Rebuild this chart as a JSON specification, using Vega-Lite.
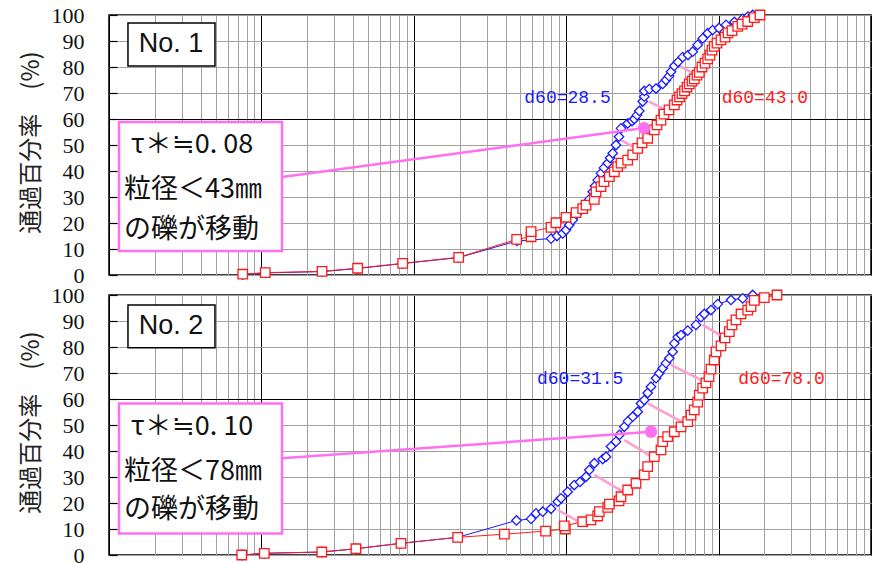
{
  "$schema": "https://vega.github.io/schema/vega-lite/v6.json",
  "background": "white",
  "padding": {"left": 18, "top": 3, "right": 0, "bottom": 0},
  "spacing": 20,
  "bounds": "flush",
  "config": {
    "view": {"stroke": "#000000", "strokeWidth": 1.5},
    "axis": {"gridOpacity": 1}
  },
  "datasets": {
    "c1": [
      {"s":"blue","d":0.0754,"p":0.2},{"s":"blue","d":0.106,"p":0.8},{"s":"blue","d":0.25,"p":1.3},{"s":"blue","d":0.428,"p":2.5},{"s":"blue","d":0.846,"p":4.4},{"s":"blue","d":1.97,"p":6.7},{"s":"blue","d":4.76,"p":13.1},{"s":"blue","d":7.95,"p":14.0},{"s":"blue","d":8.70,"p":15.0},{"s":"blue","d":9.49,"p":16.0},{"s":"blue","d":9.97,"p":17.3},{"s":"blue","d":10.48,"p":19.2},{"s":"blue","d":11.03,"p":21.2},{"s":"blue","d":11.77,"p":23.5},{"s":"blue","d":13.15,"p":26.3},{"s":"blue","d":14.18,"p":29.1},{"s":"blue","d":14.93,"p":32.0},{"s":"blue","d":15.45,"p":34.2},{"s":"blue","d":16.09,"p":36.5},{"s":"blue","d":16.92,"p":39.1},{"s":"blue","d":17.70,"p":41.2},{"s":"blue","d":18.73,"p":43.0},{"s":"blue","d":19.39,"p":45.0},{"s":"blue","d":20.19,"p":46.8},{"s":"blue","d":21.22,"p":50.0},{"s":"blue","d":22.21,"p":53.2},{"s":"blue","d":22.89,"p":56.4},{"s":"blue","d":25.33,"p":58.3},{"s":"blue","d":27.03,"p":59.2},{"s":"blue","d":27.99,"p":60.0},{"s":"blue","d":29.15,"p":61.5},{"s":"blue","d":30.18,"p":63.1},{"s":"blue","d":31.77,"p":66.7},{"s":"blue","d":32.54,"p":68.6},{"s":"blue","d":32.54,"p":70.8},{"s":"blue","d":35.10,"p":71.5},{"s":"blue","d":38.85,"p":71.7},{"s":"blue","d":42.97,"p":73.5},{"s":"blue","d":45.16,"p":75.0},{"s":"blue","d":47.27,"p":76.5},{"s":"blue","d":48.72,"p":78.2},{"s":"blue","d":51.20,"p":80.4},{"s":"blue","d":54.15,"p":81.9},{"s":"blue","d":58.13,"p":83.8},{"s":"blue","d":62.99,"p":84.6},{"s":"blue","d":67.62,"p":85.9},{"s":"blue","d":72.89,"p":88.5},{"s":"blue","d":78.66,"p":91.0},{"s":"blue","d":84.81,"p":93.0},{"s":"blue","d":91.46,"p":94.2},{"s":"blue","d":100.6,"p":95.0},{"s":"blue","d":111.8,"p":96.2},{"s":"blue","d":126.8,"p":97.3},{"s":"blue","d":143.9,"p":98.5},{"s":"blue","d":155.9,"p":99.4},{"s":"blue","d":167.4,"p":100},
      {"s":"red","d":0.0754,"p":0.3},{"s":"red","d":0.106,"p":0.9},{"s":"red","d":0.25,"p":1.4},{"s":"red","d":0.428,"p":2.6},{"s":"red","d":0.846,"p":4.5},{"s":"red","d":1.97,"p":6.8},{"s":"red","d":4.73,"p":13.7},{"s":"red","d":5.88,"p":14.7},{"s":"red","d":5.88,"p":16.7},{"s":"red","d":7.95,"p":18.3},{"s":"red","d":8.57,"p":20.1},{"s":"red","d":9.97,"p":22.2},{"s":"red","d":11.60,"p":24.0},{"s":"red","d":12.83,"p":25.5},{"s":"red","d":13.49,"p":26.9},{"s":"red","d":15.29,"p":29.1},{"s":"red","d":15.69,"p":32.0},{"s":"red","d":16.92,"p":34.0},{"s":"red","d":17.70,"p":35.9},{"s":"red","d":19.19,"p":37.8},{"s":"red","d":20.69,"p":39.7},{"s":"red","d":21.77,"p":41.7},{"s":"red","d":22.89,"p":43.0},{"s":"red","d":25.33,"p":44.2},{"s":"red","d":27.32,"p":46.2},{"s":"red","d":29.46,"p":48.7},{"s":"red","d":31.43,"p":50.8},{"s":"red","d":34.25,"p":52.6},{"s":"red","d":37.85,"p":55.8},{"s":"red","d":39.43,"p":57.7},{"s":"red","d":41.89,"p":59.6},{"s":"red","d":43.83,"p":61.9},{"s":"red","d":47.27,"p":63.5},{"s":"red","d":51.20,"p":65.4},{"s":"red","d":53.33,"p":67.3},{"s":"red","d":55.42,"p":68.5},{"s":"red","d":57.54,"p":69.8},{"s":"red","d":59.75,"p":70.8},{"s":"red","d":62.05,"p":72.3},{"s":"red","d":64.22,"p":73.5},{"s":"red","d":66.91,"p":74.6},{"s":"red","d":69.27,"p":75.4},{"s":"red","d":72.16,"p":76.9},{"s":"red","d":74.71,"p":77.9},{"s":"red","d":77.82,"p":80.0},{"s":"red","d":81.43,"p":81.5},{"s":"red","d":84.81,"p":83.1},{"s":"red","d":87.81,"p":84.6},{"s":"red","d":90.51,"p":86.5},{"s":"red","d":93.71,"p":87.9},{"s":"red","d":97.6,"p":89.2},{"s":"red","d":103.7,"p":90.4},{"s":"red","d":110.2,"p":91.5},{"s":"red","d":115.3,"p":93.1},{"s":"red","d":122.4,"p":94.0},{"s":"red","d":133.5,"p":95.6},{"s":"red","d":142.5,"p":96.5},{"s":"red","d":155.2,"p":97.5},{"s":"red","d":171.5,"p":99.0},{"s":"red","d":186.9,"p":100}
    ],
    "c2": [
      {"s":"blue","d":0.0743,"p":0},{"s":"blue","d":0.1045,"p":0.65},{"s":"blue","d":0.249,"p":1.15},{"s":"blue","d":0.417,"p":2.4},{"s":"blue","d":0.824,"p":4.5},{"s":"blue","d":1.94,"p":6.8},{"s":"blue","d":4.72,"p":13.3},{"s":"blue","d":5.88,"p":13.9},{"s":"blue","d":6.34,"p":16.0},{"s":"blue","d":7.01,"p":16.65},{"s":"blue","d":7.95,"p":17.8},{"s":"blue","d":8.80,"p":20.5},{"s":"blue","d":9.25,"p":21.8},{"s":"blue","d":10.23,"p":24.3},{"s":"blue","d":11.30,"p":26.9},{"s":"blue","d":12.32,"p":28.1},{"s":"blue","d":13.49,"p":30.1},{"s":"blue","d":14.18,"p":32.7},{"s":"blue","d":15.29,"p":35.3},{"s":"blue","d":17.36,"p":36.9},{"s":"blue","d":18.25,"p":37.8},{"s":"blue","d":19.68,"p":41.7},{"s":"blue","d":21.22,"p":43.6},{"s":"blue","d":22.31,"p":46.2},{"s":"blue","d":24.06,"p":49.3},{"s":"blue","d":25.44,"p":51.5},{"s":"blue","d":27.32,"p":53.2},{"s":"blue","d":29.46,"p":55.1},{"s":"blue","d":30.96,"p":58.3},{"s":"blue","d":32.54,"p":59.6},{"s":"blue","d":34.25,"p":62.3},{"s":"blue","d":36.00,"p":64.7},{"s":"blue","d":38.85,"p":68.0},{"s":"blue","d":40.83,"p":69.9},{"s":"blue","d":42.97,"p":71.8},{"s":"blue","d":45.16,"p":73.8},{"s":"blue","d":47.48,"p":75.7},{"s":"blue","d":49.98,"p":78.2},{"s":"blue","d":51.20,"p":81.4},{"s":"blue","d":53.90,"p":83.8},{"s":"blue","d":56.66,"p":84.6},{"s":"blue","d":62.72,"p":86.3},{"s":"blue","d":71.07,"p":88.5},{"s":"blue","d":76.63,"p":91.5},{"s":"blue","d":80.55,"p":92.7},{"s":"blue","d":89.15,"p":94.2},{"s":"blue","d":98.65,"p":96.5},{"s":"blue","d":120.6,"p":98.1},{"s":"blue","d":143.9,"p":98.7},{"s":"blue","d":167.4,"p":100},
      {"s":"red","d":0.0743,"p":0},{"s":"red","d":0.1045,"p":0.65},{"s":"red","d":0.249,"p":1.15},{"s":"red","d":0.417,"p":2.4},{"s":"red","d":0.824,"p":4.5},{"s":"red","d":1.94,"p":6.8},{"s":"red","d":3.93,"p":8.0},{"s":"red","d":7.32,"p":9.2},{"s":"red","d":9.87,"p":10.0},{"s":"red","d":9.72,"p":11.2},{"s":"red","d":12.83,"p":12.8},{"s":"red","d":14.55,"p":13.5},{"s":"red","d":16.09,"p":15.0},{"s":"red","d":16.49,"p":16.65},{"s":"red","d":18.73,"p":18.3},{"s":"red","d":19.19,"p":19.6},{"s":"red","d":22.21,"p":20.8},{"s":"red","d":22.89,"p":22.4},{"s":"red","d":25.33,"p":25.0},{"s":"red","d":28.71,"p":27.6},{"s":"red","d":32.54,"p":30.8},{"s":"red","d":34.25,"p":34.0},{"s":"red","d":37.85,"p":37.8},{"s":"red","d":41.89,"p":40.4},{"s":"red","d":42.97,"p":43.6},{"s":"red","d":46.34,"p":45.5},{"s":"red","d":51.20,"p":47.4},{"s":"red","d":56.66,"p":49.3},{"s":"red","d":62.72,"p":51.3},{"s":"red","d":65.90,"p":53.8},{"s":"red","d":69.27,"p":55.8},{"s":"red","d":72.89,"p":58.8},{"s":"red","d":74.71,"p":61.5},{"s":"red","d":78.66,"p":64.2},{"s":"red","d":82.66,"p":66.2},{"s":"red","d":86.50,"p":68.6},{"s":"red","d":89.15,"p":71.5},{"s":"red","d":93.71,"p":75.0},{"s":"red","d":96.16,"p":78.1},{"s":"red","d":103.7,"p":80.4},{"s":"red","d":110.2,"p":83.5},{"s":"red","d":117.6,"p":85.9},{"s":"red","d":122.4,"p":88.5},{"s":"red","d":130.1,"p":90.4},{"s":"red","d":140.3,"p":92.7},{"s":"red","d":155.2,"p":94.2},{"s":"red","d":163.2,"p":95.5},{"s":"red","d":171.5,"p":97.9},{"s":"red","d":199.5,"p":99.0},{"s":"red","d":241.6,"p":100}
    ]
  },
  "vconcat": [
    {
      "width": 762, "height": 260,
      "resolve": {"axis": {"x": "independent", "y": "independent"}},
      "layer": [
        {
          "data": {"values": [
            {"a":22.89,"ya":51.9,"b":30.0,"yb":48.1},
            {"a":34.9,"ya":66.7,"b":50.0,"yb":62.2},
            {"a":53.9,"ya":80.8,"b":74.7,"yb":76.3}
          ]},
          "mark": {"type": "rule", "color": "#ff9ecf", "strokeWidth": 2.5},
          "encoding": {
            "x": {"field": "a", "type": "quantitative", "scale": {"type": "log", "domain": [0.01, 1000], "nice": false},
              "axis": {"values": [0.01,0.02,0.03,0.04,0.05,0.06,0.07,0.08,0.09,0.1,0.2,0.3,0.4,0.5,0.6,0.7,0.8,0.9,1,2,3,4,5,6,7,8,9,10,20,30,40,50,60,70,80,90,100,200,300,400,500,600,700,800,900,1000],
                "labels": false, "ticks": false, "domain": false, "title": null, "grid": true, "gridWidth": 1,
                "gridColor": {"condition": {"test": "indexof([0.01,0.1,1,10,100,1000], datum.value) >= 0", "value": "#000000"}, "value": "#a0a0a0"}}},
            "x2": {"field": "b"},
            "y": {"field": "ya", "type": "quantitative", "scale": {"domain": [0, 100], "nice": false},
              "axis": {"values": [0,10,20,30,40,50,60,70,80,90,100], "title": "通過百分率　(%)",
                "titleFont": "Noto Sans CJK JP", "titleFontSize": 24, "titleFontWeight": "normal", "titleColor": "#222222",
                "titleAngle": -90, "titleX": -78, "titleY": 127, "titleAlign": "center", "titleBaseline": "middle",
                "labelFont": "Liberation Serif, DejaVu Serif, serif", "labelFontSize": 22, "labelColor": "#111111", "labelPadding": 33,
                "labelFlush": false, "labelOverlap": false, "labelBaseline": "middle",
                "tickSize": -8, "tickColor": "#000000", "tickWidth": 1.2, "domain": false, "grid": true, "gridWidth": 1,
                "gridColor": {"condition": {"test": "datum.value === 60", "value": "#000000"}, "value": "#a0a0a0"}}},
            "y2": {"field": "yb"}
          }
        },
        {
          "data": {"name": "c1"},
          "mark": {"type": "line", "strokeWidth": 1},
          "encoding": {
            "x": {"field": "d", "type": "quantitative", "scale": {"type": "log", "domain": [0.01, 1000], "nice": false}, "axis": null},
            "y": {"field": "p", "type": "quantitative", "scale": {"domain": [0, 100], "nice": false}, "axis": null},
            "color": {"field": "s", "type": "nominal", "scale": {"domain": ["blue", "red"], "range": ["#1a1aff", "#ff1a1a"]}, "legend": null},
            "order": {"field": "p", "type": "quantitative"}
          }
        },
        {
          "data": {"name": "c1"},
          "mark": {"type": "point", "filled": false, "fill": "white", "fillOpacity": 1, "opacity": 1, "strokeWidth": 1.3, "size": 90},
          "encoding": {
            "x": {"field": "d", "type": "quantitative", "scale": {"type": "log", "domain": [0.01, 1000], "nice": false}, "axis": null},
            "y": {"field": "p", "type": "quantitative", "scale": {"domain": [0, 100], "nice": false}, "axis": null},
            "color": {"field": "s", "type": "nominal", "scale": {"domain": ["blue", "red"], "range": ["#1a1aff", "#ff1a1a"]}, "legend": null},
            "shape": {"field": "s", "type": "nominal", "scale": {"domain": ["blue", "red"], "range": ["diamond", "square"]}, "legend": null}
          }
        },
        {
          "data": {"values": [{"a":0.1365,"ya":37.7,"b":32.4,"yb":56.5}]},
          "mark": {"type": "rule", "color": "#ff70ee", "strokeWidth": 2.5},
          "encoding": {
            "x": {"field": "a", "type": "quantitative", "scale": {"type": "log", "domain": [0.01, 1000], "nice": false}, "axis": null},
            "x2": {"field": "b"},
            "y": {"field": "ya", "type": "quantitative", "scale": {"domain": [0, 100], "nice": false}, "axis": null},
            "y2": {"field": "yb"}
          }
        },
        {
          "data": {"values": [{"b":32.4,"yb":56.5}]},
          "mark": {"type": "circle", "color": "#ff70ee", "opacity": 1, "size": 155},
          "encoding": {
            "x": {"field": "b", "type": "quantitative", "scale": {"type": "log", "domain": [0.01, 1000], "nice": false}, "axis": null},
            "y": {"field": "yb", "type": "quantitative", "scale": {"domain": [0, 100], "nice": false}, "axis": null}
          }
        },
        {
          "data": {"values": [{"x":0.01163,"x2":0.1365,"y":58.8,"y2":9.2}]},
          "mark": {"type": "rect", "fill": "white", "stroke": "#ff70ee", "strokeWidth": 2.5},
          "encoding": {
            "x": {"field": "x", "type": "quantitative", "scale": {"type": "log", "domain": [0.01, 1000], "nice": false}, "axis": null},
            "x2": {"field": "x2"},
            "y": {"field": "y", "type": "quantitative", "scale": {"domain": [0, 100], "nice": false}, "axis": null},
            "y2": {"field": "y2"}
          }
        },
        {
          "data": {"values": [{"x":0.01332,"x2":0.0496,"y":96.9,"y2":80.4}]},
          "mark": {"type": "rect", "fill": "white", "stroke": "#000000", "strokeWidth": 1.5},
          "encoding": {
            "x": {"field": "x", "type": "quantitative", "scale": {"type": "log", "domain": [0.01, 1000], "nice": false}, "axis": null},
            "x2": {"field": "x2"},
            "y": {"field": "y", "type": "quantitative", "scale": {"domain": [0, 100], "nice": false}, "axis": null},
            "y2": {"field": "y2"}
          }
        },
        {
          "data": {"values": [
            {"t":"τ＊≒0. 08","x":0.0139,"y":50.0},
            {"t":"粒径＜43㎜","x":0.01254,"y":32.7},
            {"t":"の礫が移動","x":0.01254,"y":17.3}
          ]},
          "mark": {"type": "text", "align": "left", "baseline": "middle", "font": "Noto Sans CJK JP", "fontSize": 27, "color": "#111111"},
          "encoding": {
            "x": {"field": "x", "type": "quantitative", "scale": {"type": "log", "domain": [0.01, 1000], "nice": false}, "axis": null},
            "y": {"field": "y", "type": "quantitative", "scale": {"domain": [0, 100], "nice": false}, "axis": null},
            "text": {"field": "t"}
          }
        },
        {
          "data": {"values": [{"t":"No. 1","x":0.02552,"y":88.7}]},
          "mark": {"type": "text", "align": "center", "baseline": "middle", "font": "Liberation Sans Narrow, Arial Narrow, Liberation Sans", "fontSize": 27, "color": "#111111"},
          "encoding": {
            "x": {"field": "x", "type": "quantitative", "scale": {"type": "log", "domain": [0.01, 1000], "nice": false}, "axis": null},
            "y": {"field": "y", "type": "quantitative", "scale": {"domain": [0, 100], "nice": false}, "axis": null},
            "text": {"field": "t"}
          }
        },
        {
          "data": {"values": [
            {"t":"d60=28.5","x":5.31,"y":68.1,"s":"blue"},
            {"t":"d60=43.0","x":104.8,"y":68.1,"s":"red"}
          ]},
          "mark": {"type": "text", "align": "left", "baseline": "middle", "font": "Liberation Mono", "fontSize": 18},
          "encoding": {
            "x": {"field": "x", "type": "quantitative", "scale": {"type": "log", "domain": [0.01, 1000], "nice": false}, "axis": null},
            "y": {"field": "y", "type": "quantitative", "scale": {"domain": [0, 100], "nice": false}, "axis": null},
            "text": {"field": "t"},
            "color": {"field": "s", "type": "nominal", "scale": {"domain": ["blue", "red"], "range": ["#1a1aff", "#ff1a1a"]}, "legend": null}
          }
        }
      ]
    },
    {
      "width": 762, "height": 260,
      "resolve": {"axis": {"x": "independent", "y": "independent"}},
      "layer": [
        {
          "data": {"values": [
            {"a":8.80,"ya":17.3,"b":13.84,"yb":10.9},
            {"a":15.29,"ya":30.8,"b":24.69,"yb":23.7},
            {"a":24.06,"ya":44.2,"b":39.85,"yb":36.5},
            {"a":34.25,"ya":58.3,"b":59.57,"yb":50.7},
            {"a":48.72,"ya":73.1,"b":89.15,"yb":65.4},
            {"a":78.66,"ya":88.5,"b":106.4,"yb":84.0}
          ]},
          "mark": {"type": "rule", "color": "#ff9ecf", "strokeWidth": 2.5},
          "encoding": {
            "x": {"field": "a", "type": "quantitative", "scale": {"type": "log", "domain": [0.01, 1000], "nice": false},
              "axis": {"values": [0.01,0.02,0.03,0.04,0.05,0.06,0.07,0.08,0.09,0.1,0.2,0.3,0.4,0.5,0.6,0.7,0.8,0.9,1,2,3,4,5,6,7,8,9,10,20,30,40,50,60,70,80,90,100,200,300,400,500,600,700,800,900,1000],
                "labels": false, "ticks": false, "domain": false, "title": null, "grid": true, "gridWidth": 1,
                "gridColor": {"condition": {"test": "indexof([0.01,0.1,1,10,100,1000], datum.value) >= 0", "value": "#000000"}, "value": "#a0a0a0"}}},
            "x2": {"field": "b"},
            "y": {"field": "ya", "type": "quantitative", "scale": {"domain": [0, 100], "nice": false},
              "axis": {"values": [0,10,20,30,40,50,60,70,80,90,100], "title": "通過百分率　(%)",
                "titleFont": "Noto Sans CJK JP", "titleFontSize": 24, "titleFontWeight": "normal", "titleColor": "#222222",
                "titleAngle": -90, "titleX": -78, "titleY": 127, "titleAlign": "center", "titleBaseline": "middle",
                "labelFont": "Liberation Serif, DejaVu Serif, serif", "labelFontSize": 22, "labelColor": "#111111", "labelPadding": 33,
                "labelFlush": false, "labelOverlap": false, "labelBaseline": "middle",
                "tickSize": -8, "tickColor": "#000000", "tickWidth": 1.2, "domain": false, "grid": true, "gridWidth": 1,
                "gridColor": {"condition": {"test": "datum.value === 60", "value": "#000000"}, "value": "#a0a0a0"}}},
            "y2": {"field": "yb"}
          }
        },
        {
          "data": {"name": "c2"},
          "mark": {"type": "line", "strokeWidth": 1},
          "encoding": {
            "x": {"field": "d", "type": "quantitative", "scale": {"type": "log", "domain": [0.01, 1000], "nice": false}, "axis": null},
            "y": {"field": "p", "type": "quantitative", "scale": {"domain": [0, 100], "nice": false}, "axis": null},
            "color": {"field": "s", "type": "nominal", "scale": {"domain": ["blue", "red"], "range": ["#1a1aff", "#ff1a1a"]}, "legend": null},
            "order": {"field": "p", "type": "quantitative"}
          }
        },
        {
          "data": {"name": "c2"},
          "mark": {"type": "point", "filled": false, "fill": "white", "fillOpacity": 1, "opacity": 1, "strokeWidth": 1.3, "size": 90},
          "encoding": {
            "x": {"field": "d", "type": "quantitative", "scale": {"type": "log", "domain": [0.01, 1000], "nice": false}, "axis": null},
            "y": {"field": "p", "type": "quantitative", "scale": {"domain": [0, 100], "nice": false}, "axis": null},
            "color": {"field": "s", "type": "nominal", "scale": {"domain": ["blue", "red"], "range": ["#1a1aff", "#ff1a1a"]}, "legend": null},
            "shape": {"field": "s", "type": "nominal", "scale": {"domain": ["blue", "red"], "range": ["diamond", "square"]}, "legend": null}
          }
        },
        {
          "data": {"values": [{"a":0.1365,"ya":37.2,"b":36.0,"yb":47.4}]},
          "mark": {"type": "rule", "color": "#ff70ee", "strokeWidth": 2.5},
          "encoding": {
            "x": {"field": "a", "type": "quantitative", "scale": {"type": "log", "domain": [0.01, 1000], "nice": false}, "axis": null},
            "x2": {"field": "b"},
            "y": {"field": "ya", "type": "quantitative", "scale": {"domain": [0, 100], "nice": false}, "axis": null},
            "y2": {"field": "yb"}
          }
        },
        {
          "data": {"values": [{"b":36.0,"yb":47.4}]},
          "mark": {"type": "circle", "color": "#ff70ee", "opacity": 1, "size": 155},
          "encoding": {
            "x": {"field": "b", "type": "quantitative", "scale": {"type": "log", "domain": [0.01, 1000], "nice": false}, "axis": null},
            "y": {"field": "yb", "type": "quantitative", "scale": {"domain": [0, 100], "nice": false}, "axis": null}
          }
        },
        {
          "data": {"values": [{"x":0.01163,"x2":0.1365,"y":58.3,"y2":8.3}]},
          "mark": {"type": "rect", "fill": "white", "stroke": "#ff70ee", "strokeWidth": 2.5},
          "encoding": {
            "x": {"field": "x", "type": "quantitative", "scale": {"type": "log", "domain": [0.01, 1000], "nice": false}, "axis": null},
            "x2": {"field": "x2"},
            "y": {"field": "y", "type": "quantitative", "scale": {"domain": [0, 100], "nice": false}, "axis": null},
            "y2": {"field": "y2"}
          }
        },
        {
          "data": {"values": [{"x":0.01332,"x2":0.0496,"y":96.2,"y2":79.7}]},
          "mark": {"type": "rect", "fill": "white", "stroke": "#000000", "strokeWidth": 1.5},
          "encoding": {
            "x": {"field": "x", "type": "quantitative", "scale": {"type": "log", "domain": [0.01, 1000], "nice": false}, "axis": null},
            "x2": {"field": "x2"},
            "y": {"field": "y", "type": "quantitative", "scale": {"domain": [0, 100], "nice": false}, "axis": null},
            "y2": {"field": "y2"}
          }
        },
        {
          "data": {"values": [
            {"t":"τ＊≒0. 10","x":0.0139,"y":49.3},
            {"t":"粒径＜78㎜","x":0.01254,"y":32.0},
            {"t":"の礫が移動","x":0.01254,"y":17.3}
          ]},
          "mark": {"type": "text", "align": "left", "baseline": "middle", "font": "Noto Sans CJK JP", "fontSize": 27, "color": "#111111"},
          "encoding": {
            "x": {"field": "x", "type": "quantitative", "scale": {"type": "log", "domain": [0.01, 1000], "nice": false}, "axis": null},
            "y": {"field": "y", "type": "quantitative", "scale": {"domain": [0, 100], "nice": false}, "axis": null},
            "text": {"field": "t"}
          }
        },
        {
          "data": {"values": [{"t":"No. 2","x":0.02552,"y":88.1}]},
          "mark": {"type": "text", "align": "center", "baseline": "middle", "font": "Liberation Sans Narrow, Arial Narrow, Liberation Sans", "fontSize": 27, "color": "#111111"},
          "encoding": {
            "x": {"field": "x", "type": "quantitative", "scale": {"type": "log", "domain": [0.01, 1000], "nice": false}, "axis": null},
            "y": {"field": "y", "type": "quantitative", "scale": {"domain": [0, 100], "nice": false}, "axis": null},
            "text": {"field": "t"}
          }
        },
        {
          "data": {"values": [
            {"t":"d60=31.5","x":6.43,"y":67.6,"s":"blue"},
            {"t":"d60=78.0","x":134.7,"y":67.6,"s":"red"}
          ]},
          "mark": {"type": "text", "align": "left", "baseline": "middle", "font": "Liberation Mono", "fontSize": 18},
          "encoding": {
            "x": {"field": "x", "type": "quantitative", "scale": {"type": "log", "domain": [0.01, 1000], "nice": false}, "axis": null},
            "y": {"field": "y", "type": "quantitative", "scale": {"domain": [0, 100], "nice": false}, "axis": null},
            "text": {"field": "t"},
            "color": {"field": "s", "type": "nominal", "scale": {"domain": ["blue", "red"], "range": ["#1a1aff", "#ff1a1a"]}, "legend": null}
          }
        }
      ]
    }
  ]
}
